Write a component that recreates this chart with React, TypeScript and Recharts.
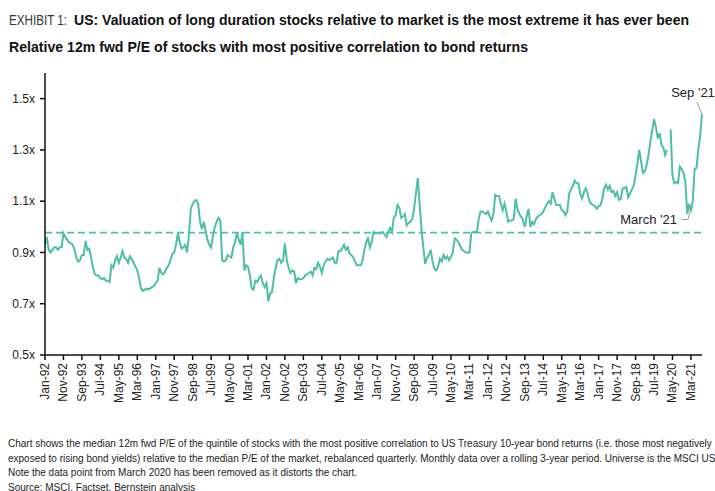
import {
  LineChart,
  Line,
  XAxis,
  YAxis,
  ReferenceLine,
  ReferenceDot,
} from "recharts";

const TEAL = "#4dbfa8";
const AVERAGE = 0.977;

const MONTHS = ["Jan", "Feb", "Mar", "Apr", "May", "Jun", "Jul", "Aug", "Sep", "Oct", "Nov", "Dec"];
const START_YEAR = 1992;

// relative 12m fwd P/E, monthly from Jan-92
const REL_PE_1990S = [
  0.93, 0.96, 0.91, 0.9, 0.91, 0.92, 0.92, 0.91, 0.92, 0.92, 0.975, 0.96,
  0.95, 0.94, 0.935, 0.93, 0.91, 0.88, 0.865, 0.87, 0.89, 0.89, 0.945, 0.91,
  0.915, 0.88, 0.84, 0.815, 0.81, 0.81, 0.8, 0.795, 0.8, 0.79, 0.79, 0.785,
  0.85, 0.84, 0.87, 0.885, 0.86, 0.88, 0.905, 0.88, 0.875, 0.86, 0.885, 0.875,
  0.86, 0.845, 0.83, 0.8, 0.76, 0.75, 0.755, 0.76, 0.755, 0.76, 0.765, 0.77,
  0.78, 0.79, 0.84, 0.82, 0.815, 0.825, 0.84, 0.85, 0.87, 0.895, 0.9, 0.93,
  0.975, 0.94, 0.915, 0.92, 0.93, 0.9, 0.97, 1.07, 1.09, 1.1, 1.105, 1.09,
  1.02, 0.99, 1.02, 0.985, 0.95, 0.93, 0.92, 0.965, 1.0, 1.02, 1.035, 1.025,
];

const REL_PE_2000S = [
  0.87, 0.865, 0.87, 0.89, 0.885, 0.88, 0.92, 0.94, 0.975, 0.95, 0.93, 0.98,
  0.83, 0.85, 0.845, 0.81, 0.76, 0.755, 0.79, 0.785, 0.8, 0.81, 0.78, 0.765,
  0.78, 0.71, 0.74, 0.745, 0.8, 0.84, 0.87, 0.875, 0.86, 0.87, 0.935, 0.87,
  0.84, 0.82, 0.83, 0.825, 0.78, 0.8, 0.795, 0.795, 0.8, 0.81, 0.815, 0.82,
  0.825, 0.81, 0.84, 0.835, 0.86, 0.845, 0.82, 0.85, 0.865, 0.875, 0.87, 0.875,
  0.88, 0.86, 0.86, 0.905, 0.905, 0.915, 0.93, 0.91, 0.92, 0.895, 0.89, 0.88,
  0.865, 0.85, 0.85, 0.85, 0.865, 0.91, 0.94, 0.955, 0.92, 0.94, 0.98, 0.975,
  0.975, 0.975, 0.975, 0.98, 0.97, 0.96, 0.98, 0.995, 0.98, 1.035, 1.045, 1.085,
  1.075, 1.035, 1.04, 1.05, 1.005, 1.015, 1.02, 1.03, 1.07, 1.13, 1.19, 1.09,
  0.99, 0.92, 0.855, 0.88, 0.89, 0.91, 0.865, 0.835, 0.83, 0.845, 0.875, 0.865,
];

const REL_PE_2010S = [
  0.89, 0.875, 0.885, 0.87, 0.885, 0.9, 0.955, 0.95, 0.94, 0.925, 0.91, 0.905,
  0.9, 0.9, 0.9, 0.975, 0.98, 0.98, 0.98, 1.03, 1.06, 1.06, 1.055, 1.05,
  1.06, 1.04, 1.025, 1.05, 1.125, 1.12, 1.12, 1.09, 1.065, 1.09, 1.06, 1.02,
  1.025, 1.025, 1.03, 1.11, 1.07, 1.05, 1.04, 1.025, 1.0, 1.04, 1.07, 1.0,
  1.02, 1.01, 1.03, 1.04, 1.045, 1.05, 1.06, 1.075, 1.09, 1.1, 1.09, 1.135,
  1.11, 1.085, 1.085, 1.085, 1.065, 1.06, 1.045, 1.06, 1.13, 1.145, 1.16, 1.18,
  1.17, 1.17, 1.13, 1.11, 1.135, 1.15, 1.13, 1.1, 1.09, 1.085, 1.08, 1.07,
  1.08, 1.085, 1.11, 1.15, 1.165, 1.145, 1.16, 1.135, 1.14, 1.12, 1.135, 1.105,
  1.11, 1.15, 1.15, 1.155, 1.115, 1.13, 1.145, 1.16, 1.2, 1.245, 1.3, 1.255,
  1.21, 1.215, 1.24, 1.28, 1.33, 1.375, 1.42, 1.39, 1.345, 1.365, 1.32, 1.31,
];

// March 2020 removed (null)
const REL_PE_2020S = [
  1.28, 1.3, null, 1.38, 1.2, 1.17, 1.175, 1.17, 1.235, 1.225, 1.21, 1.175,
  1.05, 1.09, 1.06, 1.1, 1.225, 1.23, 1.3, 1.355, 1.44,
];

const Y_TICKS = [0.5, 0.7, 0.9, 1.1, 1.3, 1.5];

const X_TICKS = [
  "Jan-92", "Nov-92", "Sep-93", "Jul-94", "May-95", "Mar-96", "Jan-97", "Nov-97",
  "Sep-98", "Jul-99", "May-00", "Mar-01", "Jan-02", "Nov-02", "Sep-03", "Jul-04",
  "May-05", "Mar-06", "Jan-07", "Nov-07", "Sep-08", "Jul-09", "May-10", "Mar-11",
  "Jan-12", "Nov-12", "Sep-13", "Jul-14", "May-15", "Mar-16", "Jan-17", "Nov-17",
  "Sep-18", "Jul-19", "May-20", "Mar-21",
];

const values = [...REL_PE_1990S, ...REL_PE_2000S, ...REL_PE_2010S, ...REL_PE_2020S];
const data = values.map((v, i) => {
  const year = START_YEAR + Math.floor(i / 12);
  const label = `${MONTHS[i % 12]}-${String(year % 100).padStart(2, "0")}`;
  return { month: label, pe: v };
});

const AXIS_FONT = "'Liberation Sans', Arial, sans-serif";
const TITLE_FONT = "'Liberation Sans', Arial, sans-serif";

function RotatedTick({ x, y, payload }: any) {
  return (
    <g transform={`translate(${x},${y})`}>
      <text
        transform="rotate(-90)"
        textAnchor="end"
        dominantBaseline="central"
        fontSize={12}
        fontFamily={AXIS_FONT}
        fill="#222"
      >
        {payload.value}
      </text>
    </g>
  );
}

function SepLabel({ cx, cy }: any) {
  return (
    <g>
      <polyline
        points={`${cx},${cy} ${cx - 5},${cy - 12}`}
        fill="none"
        stroke="#9a9a9a"
        strokeWidth={1}
      />
      <text
        x={cx - 9}
        y={cy - 17}
        textAnchor="middle"
        fontSize={13}
        fontFamily={AXIS_FONT}
        fill="#222"
      >
        Sep '21
      </text>
    </g>
  );
}

function MarchLabel({ cx, cy }: any) {
  return (
    <g>
      <polyline
        points={`${cx},${cy - 2} ${cx - 3},${cy + 8} ${cx - 9},${cy + 8}`}
        fill="none"
        stroke="#9a9a9a"
        strokeWidth={1}
      />
      <text
        x={cx - 14}
        y={cy + 8}
        textAnchor="end"
        dominantBaseline="central"
        fontSize={13}
        fontFamily={AXIS_FONT}
        fill="#222"
      >
        March '21
      </text>
    </g>
  );
}

export default function App() {
  return (
    <div
      style={{
        position: "absolute",
        left: 0,
        top: 0,
        width: 715,
        height: 491,
        overflow: "hidden",
        background: "#fff",
      }}
    >
      {/* condensed title, squeezed to the reference widths */}
      <svg
        width={715}
        height={60}
        style={{ position: "absolute", left: 0, top: 0 }}
      >
        <text
          x={9}
          y={25}
          fontFamily={TITLE_FONT}
          fontSize={15}
          fill="#333"
          textLength={58}
          lengthAdjust="spacingAndGlyphs"
        >
          EXHIBIT 1:
        </text>
        <text
          x={74}
          y={25}
          fontFamily={TITLE_FONT}
          fontSize={15.5}
          fontWeight={700}
          fill="#111"
          textLength={615}
          lengthAdjust="spacingAndGlyphs"
        >
          US: Valuation of long duration stocks relative to market is the most extreme it has ever been
        </text>
        <text
          x={9}
          y={52}
          fontFamily={TITLE_FONT}
          fontSize={15.5}
          fontWeight={700}
          fill="#111"
          textLength={519}
          lengthAdjust="spacingAndGlyphs"
        >
          Relative 12m fwd P/E of stocks with most positive correlation to bond returns
        </text>
      </svg>

      <div style={{ position: "absolute", left: 0, top: 60 }}>
        <LineChart
          width={715}
          height={350}
          data={data}
          margin={{ top: 13, right: 13, left: 0, bottom: 0 }}
        >
          <XAxis
            dataKey="month"
            ticks={X_TICKS}
            interval={0}
            height={55}
            tickSize={5}
            tickMargin={3}
            stroke="#111"
            strokeWidth={1.5}
            tick={<RotatedTick />}
          />
          <YAxis
            width={45}
            domain={[0.5, 1.6]}
            ticks={Y_TICKS}
            allowDataOverflow
            tickSize={5}
            tickMargin={5}
            stroke="#111"
            strokeWidth={1.5}
            tick={{ fontSize: 12, fontFamily: AXIS_FONT, fill: "#222" }}
            tickFormatter={(v: number) => `${v.toFixed(1)}x`}
          />
          <ReferenceLine
            y={AVERAGE}
            stroke={TEAL}
            strokeWidth={1.8}
            strokeDasharray="7 4"
          />
          <Line
            type="linear"
            dataKey="pe"
            stroke={TEAL}
            strokeWidth={2}
            dot={false}
            activeDot={false}
            connectNulls={false}
            isAnimationActive={false}
          />
          <ReferenceDot x="Sep-21" y={1.44} r={0} shape={(p: any) => <SepLabel {...p} />} />
          <ReferenceDot x="Mar-21" y={1.06} r={0} shape={(p: any) => <MarchLabel {...p} />} />
        </LineChart>
      </div>

      <div
        style={{
          position: "absolute",
          left: 8,
          top: 437,
          fontFamily: AXIS_FONT,
          fontSize: 10,
          lineHeight: "14.6px",
          whiteSpace: "nowrap",
          color: "#222",
        }}
      >
        <div>
          Chart shows the median 12m fwd P/E of the quintile of stocks with the most positive correlation to US Treasury 10-year bond returns (i.e. those most negatively
        </div>
        <div>
          exposed to rising bond yields) relative to the median P/E of the market, rebalanced quarterly. Monthly data over a rolling 3-year period. Universe is the MSCI USA.
        </div>
        <div>Note the data point from March 2020 has been removed as it distorts the chart.</div>
        <div>Source: MSCI, Factset, Bernstein analysis</div>
      </div>
    </div>
  );
}
